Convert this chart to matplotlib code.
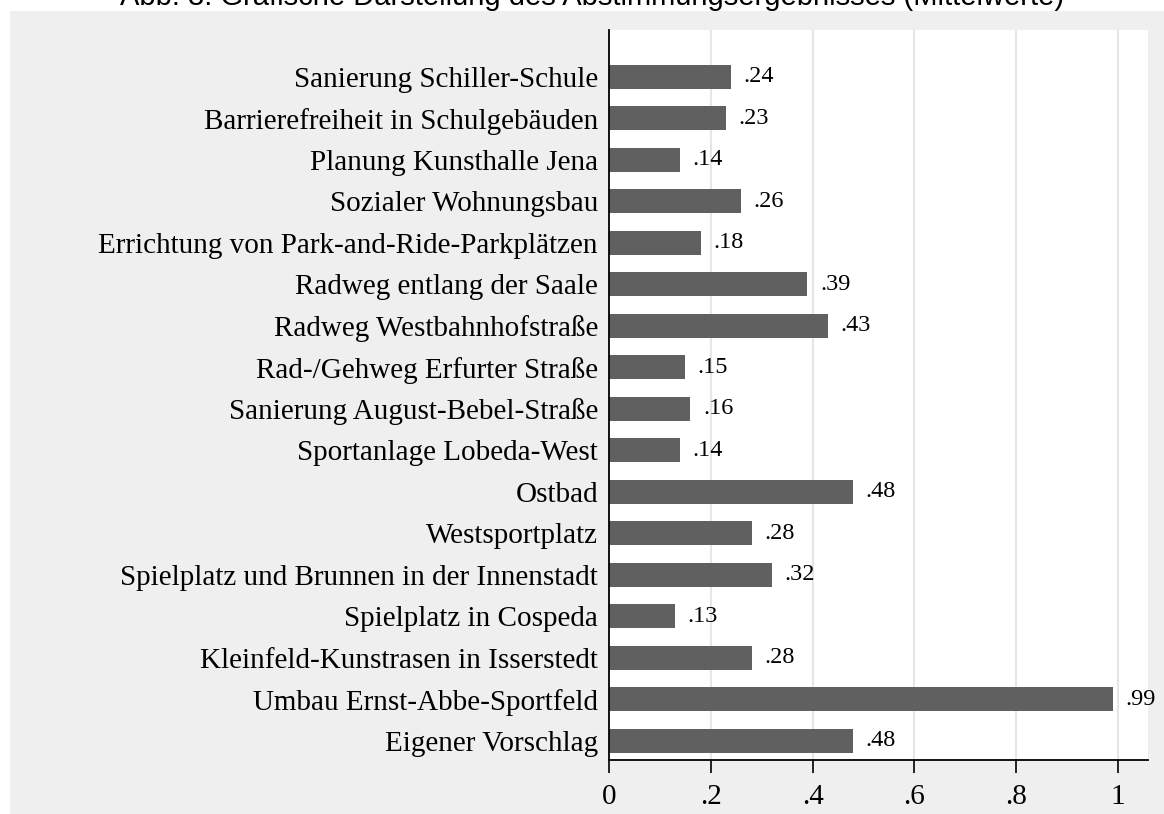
import matplotlib
matplotlib.use("Agg")
import matplotlib.pyplot as plt
from matplotlib.patches import Rectangle

projects = [
    "Sanierung Schiller-Schule",
    "Barrierefreiheit in Schulgebäuden",
    "Planung Kunsthalle Jena",
    "Sozialer Wohnungsbau",
    "Errichtung von Park-and-Ride-Parkplätzen",
    "Radweg entlang der Saale",
    "Radweg Westbahnhofstraße",
    "Rad-/Gehweg Erfurter Straße",
    "Sanierung August-Bebel-Straße",
    "Sportanlage Lobeda-West",
    "Ostbad",
    "Westsportplatz",
    "Spielplatz und Brunnen in der Innenstadt",
    "Spielplatz in Cospeda",
    "Kleinfeld-Kunstrasen in Isserstedt",
    "Umbau Ernst-Abbe-Sportfeld",
    "Eigener Vorschlag",
]
means = [0.24, 0.23, 0.14, 0.26, 0.18, 0.39, 0.43, 0.15, 0.16, 0.14,
         0.48, 0.28, 0.32, 0.13, 0.28, 0.99, 0.48]
xticks = [0, 0.2, 0.4, 0.6, 0.8, 1.0]
xticklabels = ["0", ".2", ".4", ".6", ".8", "1"]

serif = ["Liberation Serif", "DejaVu Serif"]

fig = plt.figure(figsize=(11.64, 8.14), dpi=100)
fig.patch.set_facecolor("white")
fig.patches.append(Rectangle((10 / 1164, 0), 1, 1 - 11 / 814, transform=fig.transFigure,
                             facecolor="#efefef", edgecolor="none", zorder=-10))

ax = fig.add_axes([609 / 1164, 54 / 814, (1148 - 609) / 1164, (760 - 30) / 814])
ax.set_facecolor("white")

pos = list(range(len(projects)))
ax.barh(pos, means, height=0.58, color="#606060", zorder=3)
for p, v in zip(pos, means):
    ax.annotate(("%.2f" % v).lstrip("0"), (v, p), xytext=(9, 0), textcoords="offset points",
                va="center", ha="left", fontsize=17.5, family=serif, annotation_clip=False)

ax.set_xlim(0, 1.059)
ax.set_ylim(len(projects) - 1 + 0.46, -1.13)
ax.set_yticks(pos)
ax.set_yticklabels(projects, family=serif, fontsize=21)
ax.tick_params(axis="y", length=0, pad=8)
ax.set_xticks(xticks)
ax.set_xticklabels(xticklabels, family=serif, fontsize=21)
ax.tick_params(axis="x", length=9.5, width=1.2, pad=8)

ax.grid(axis="x", color="#e6e6e6", linewidth=1.5, zorder=0)
ax.xaxis.get_gridlines()[0].set_visible(False)
for s in ["top", "right"]:
    ax.spines[s].set_visible(False)
for s in ["left", "bottom"]:
    ax.spines[s].set_linewidth(1.3)
    ax.spines[s].set_zorder(4)

fig.text(592 / 1164, 1 - 5 / 814, "Abb. 3: Grafische Darstellung des Abstimmungsergebnisses (Mittelwerte)",
         ha="center", va="baseline", fontsize=21, family=["Liberation Sans", "DejaVu Sans"])

fig.savefig("out.png", dpi=100)
